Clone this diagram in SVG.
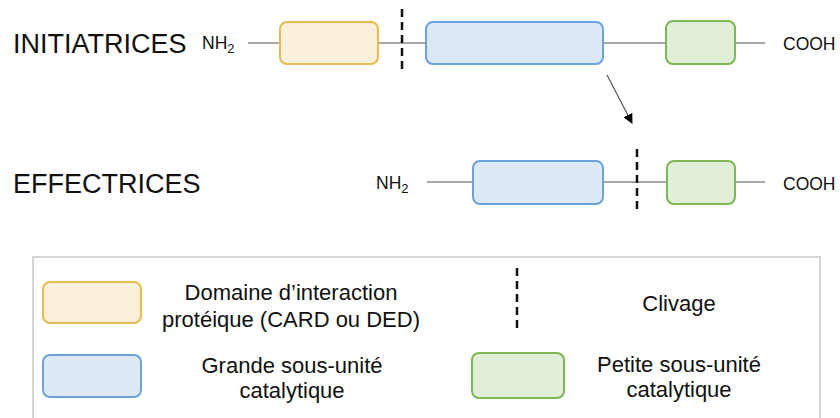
<svg xmlns="http://www.w3.org/2000/svg" width="840" height="418" viewBox="0 0 840 418">
<defs>
<style>
text{font-family:"Liberation Sans",Arial,sans-serif;fill:#111}
.title{font-size:27px}
.term{font-size:17.5px}
.leg{font-size:22px;text-anchor:middle}
.y{fill:#faefd9;stroke:#e6bd50;stroke-width:2}
.b{fill:#dde8f5;stroke:#6aa3dc;stroke-width:2}
.g{fill:#e1efd9;stroke:#7cb853;stroke-width:2}
.chain{stroke:#8a8a8a;stroke-width:1.5;fill:none}
.cut{stroke:#111;stroke-width:2.5;stroke-dasharray:8 5;fill:none}
</style>
<marker id="ah" viewBox="0 0 10 10" refX="9" refY="5" markerWidth="10" markerHeight="10" markerUnits="userSpaceOnUse" orient="auto">
<path d="M0,0 L10,5 L0,10 z" fill="#000"/>
</marker>
</defs>
<rect width="840" height="418" fill="#fff"/>

<g id="labels">
<text class="title" x="13" y="53">INITIATRICES</text>
<text class="title" x="13" y="193">EFFECTRICES</text>
<text class="term" x="202" y="49">NH<tspan font-size="13" dy="4">2</tspan></text>
<text class="term" x="376" y="189">NH<tspan font-size="13" dy="4">2</tspan></text>
<text class="term" x="783" y="50" font-size="19.5">COOH</text>
<text class="term" x="783" y="190" font-size="19.5">COOH</text>
</g>

<g id="connectors">
<path class="chain" d="M248,43 H280 M378,43 H426 M603,43 H666 M735,43 H765"/>
<path class="chain" d="M427,182 H473 M603,182 H667 M735,182 H765"/>
<path class="cut" d="M402,9 V72"/>
<path class="cut" d="M637,149 V212"/>
<path d="M607,75 L632,123" stroke="#555" stroke-width="1.2" fill="none" marker-end="url(#ah)"/>
</g>

<g id="init-card"><rect class="y" x="280" y="22" width="98" height="42" rx="7"/></g>
<g id="init-large"><rect class="b" x="426" y="22" width="177" height="42" rx="7"/></g>
<g id="init-small"><rect class="g" x="666" y="21" width="69" height="43" rx="7"/></g>
<g id="eff-large"><rect class="b" x="473" y="161" width="130" height="43" rx="7"/></g>
<g id="eff-small"><rect class="g" x="667" y="161" width="68" height="43" rx="7"/></g>

<g id="legend">
<rect x="33" y="257" width="787" height="180" fill="#fff" stroke="#c8c8c8" stroke-width="1.5"/>
<rect class="y" x="43" y="282" width="98" height="41" rx="7"/>
<text class="leg" x="291" y="300">Domaine d’interaction</text>
<text class="leg" x="291" y="327">protéique (CARD ou DED)</text>
<path class="cut" d="M517,268 V332"/>
<text class="leg" x="679" y="311">Clivage</text>
<rect class="b" x="43" y="355" width="98" height="42" rx="7"/>
<text class="leg" x="292" y="373">Grande sous-unité</text>
<text class="leg" x="292" y="398">catalytique</text>
<rect class="g" x="472" y="353" width="92" height="45" rx="7"/>
<text class="leg" x="679" y="372">Petite sous-unité</text>
<text class="leg" x="679" y="397">catalytique</text>
</g>
</svg>
